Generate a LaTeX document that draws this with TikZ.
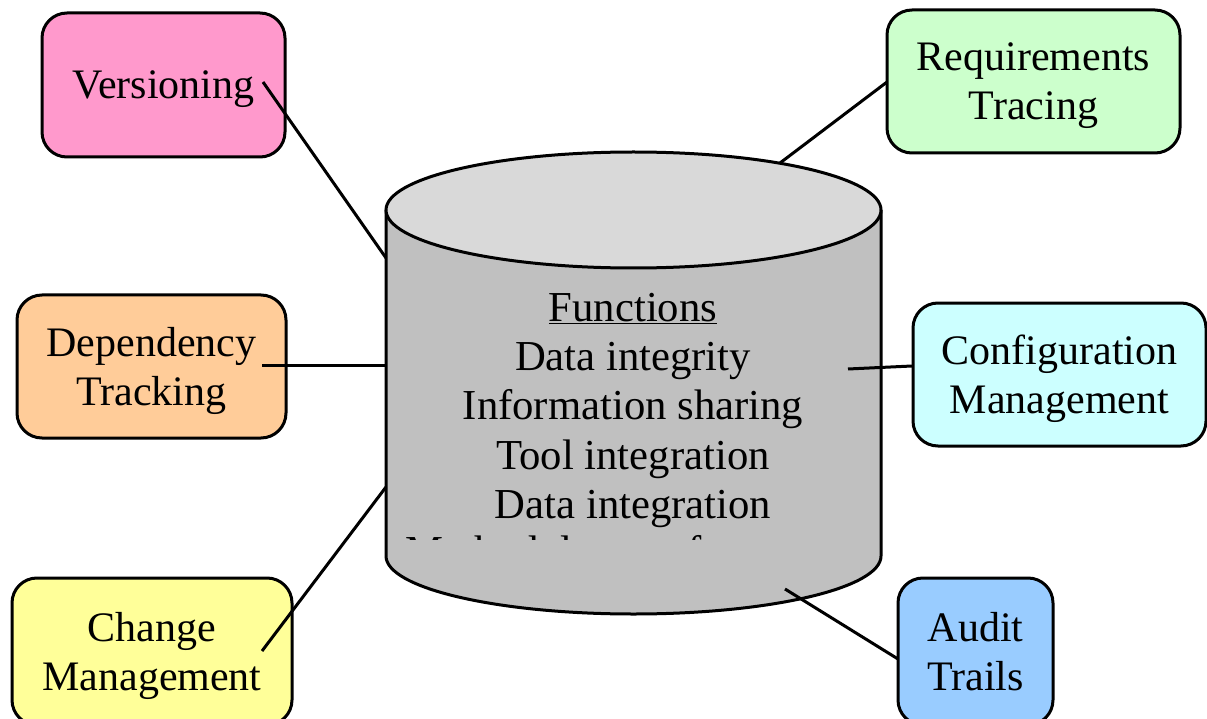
\documentclass[tikz,border=0pt]{standalone}
\usepackage{fontspec}
\setmainfont{Liberation Serif}
\begin{document}
\begin{tikzpicture}[x=1pt,y=-1pt,
  box/.style={draw=black,line width=3pt,rounded corners=25pt,inner sep=0pt},
  boxtext/.style={align=center,font=\fontsize{42}{49}\selectfont,inner sep=0pt,yshift=-4pt},
  cyltext/.style={anchor=base,font=\fontsize{42.7}{49}\selectfont,inner sep=0pt},
  link/.style={draw=black,line width=3pt}]
\useasboundingbox (0,0) rectangle (1207,719);
% cylinder
\fill[fill={rgb,255:red,192;green,192;blue,192}] (386,210) -- (386,556) arc[start angle=180,end angle=0,x radius=247.5,y radius=58] -- (881,210) -- cycle;
\draw[line width=3pt] (386,210) -- (386,556) arc[start angle=180,end angle=0,x radius=247.5,y radius=58] -- (881,210);
\draw[line width=3pt,fill={rgb,255:red,217;green,217;blue,217}] (633.5,210) ellipse[x radius=247.5,y radius=58];
% cylinder text
\node[cyltext] (f1) at (633,321) {\underline{Functions}};
\node[cyltext] (f2) at (633,370) {Data integrity};
\node[cyltext] (f3) at (633,419) {Information sharing};
\node[cyltext] (f4) at (633,469) {Tool integration};
\node[cyltext] (f5) at (633,518) {Data integration};
\begin{scope}
\clip (386,524) rectangle (881,539);
\node[cyltext] (f6) at (633,565) {Methodology enforcement};
\end{scope}
% boxes
\node[box,fill={rgb,255:red,255;green,153;blue,204},minimum width=243pt,minimum height=144pt] (ver) at (163.5,85) {};
\node[boxtext] (verT) at (ver.center) {Versioning};
\node[box,fill={rgb,255:red,204;green,255;blue,204},minimum width=293pt,minimum height=143pt] (req) at (1033.5,81.5) {};
\node[boxtext] (reqT) at (req.center) {Requirements\\Tracing};
\node[box,fill={rgb,255:red,255;green,204;blue,153},minimum width=269pt,minimum height=143pt] (dep) at (151.5,366.5) {};
\node[boxtext] (depT) at (dep.center) {Dependency\\Tracking};
\node[box,fill={rgb,255:red,204;green,255;blue,255},minimum width=293pt,minimum height=143pt] (cfg) at (1059.5,374.5) {};
\node[boxtext] (cfgT) at (cfg.center) {Configuration\\Management};
\node[box,fill={rgb,255:red,255;green,255;blue,153},minimum width=280pt,minimum height=147pt] (chg) at (152,651.5) {};
\node[boxtext] (chgT) at (chg.center) {Change\\Management};
\node[box,fill={rgb,255:red,153;green,204;blue,255},minimum width=155pt,minimum height=147pt] (aud) at (975.5,651.5) {};
\node[boxtext,yshift=4pt] (audT) at (aud.center) {Audit\\Trails};
% connector end points
\coordinate (verA) at (263,82);   \coordinate (verB) at (386,258);
\coordinate (reqA) at (887,82);   \coordinate (reqB) at (780,163);
\coordinate (depA) at (262,365);  \coordinate (depB) at (386,365);
\coordinate (cfgA) at (912,366);  \coordinate (cfgB) at (848,369);
\coordinate (chgA) at (262,651);  \coordinate (chgB) at (386,487);
\coordinate (audA) at (898,659);  \coordinate (audB) at (785,589);
\draw[link] (verA) -- (verB);
\draw[link] (reqA) -- (reqB);
\draw[link] (depA) -- (depB);
\draw[link] (cfgA) -- (cfgB);
\draw[link] (chgA) -- (chgB);
\draw[link] (audA) -- (audB);
\end{tikzpicture}
\end{document}
